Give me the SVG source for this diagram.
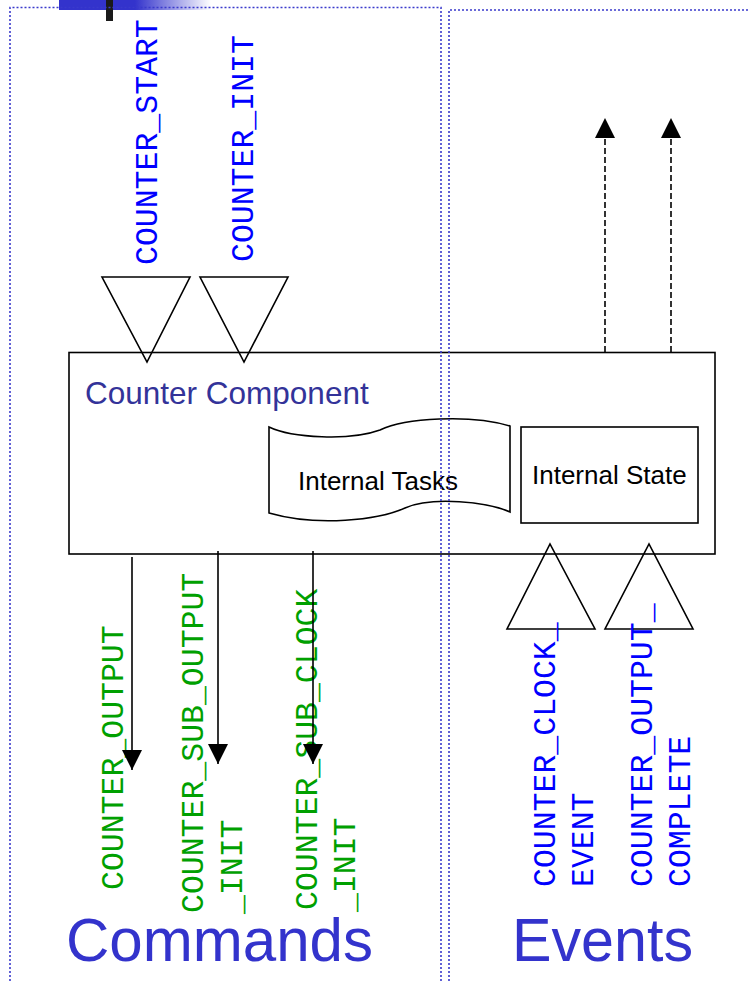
<svg xmlns="http://www.w3.org/2000/svg" width="749" height="981" viewBox="0 0 749 981">
  <style>
    .panel { fill: none; stroke: #3a3acc; stroke-width: 1.6; stroke-dasharray: 2 2; }
    .shape { fill: none; stroke: #000; stroke-width: 1.6; }
    .wire { fill: none; stroke: #000; stroke-width: 1.6; }
    .dash { fill: none; stroke: #000; stroke-width: 1.6; stroke-dasharray: 6 3; }
    .sans { font-family: "Liberation Sans", Arial, sans-serif; }
    .mono { font-family: "Liberation Mono", "Courier New", monospace; font-size: 31.5px; }
    .cmd { fill: #00a000; }
    .evt { fill: #0000ff; }
    .big { font-size: 62px; fill: #3333cc; }
  </style>
  <defs>
    <linearGradient id="barFade" x1="0" y1="0" x2="1" y2="0">
      <stop offset="0" stop-color="#3333cc"/>
      <stop offset="0.5" stop-color="#3333cc"/>
      <stop offset="1" stop-color="#3333cc" stop-opacity="0"/>
    </linearGradient>
    <marker id="head" viewBox="0 0 20 20" refX="20" refY="10" markerWidth="20" markerHeight="20" markerUnits="userSpaceOnUse" orient="auto">
      <path d="M0,0 L20,10 L0,20 Z" fill="#000"/>
    </marker>
  </defs>

  <!-- title bar accent -->
  <rect x="59" y="0" width="152" height="10" fill="url(#barFade)"/>
  <rect x="106" y="0" width="7" height="21" fill="#1a1a1a"/>

  <!-- top signals -->
  <g id="counter-start">
    <polygon class="shape" points="102,277 190,277 147,362"/>
    <text class="mono evt" transform="translate(157,265) rotate(-90)">COUNTER_START</text>
  </g>
  <g id="counter-init">
    <polygon class="shape" points="200,277 288,277 244,362"/>
    <text class="mono evt" transform="translate(253,262) rotate(-90)">COUNTER_INIT</text>
  </g>

  <!-- component body -->
  <g id="counter-component">
    <rect class="shape" x="69" y="352.5" width="646" height="201.5"/>
    <text class="sans" x="85" y="404" font-size="31.5" fill="#333399">Counter Component</text>
  </g>

  <g id="internal-tasks">
    <path class="shape" d="M269,427 C292,438 350,441 380,430 C405,418 470,414 510,426 L510,512 C488,502 432,496 405,508 C378,520 318,527 269,513 Z" fill="#fff"/>
    <text class="sans" x="298" y="490" font-size="26">Internal Tasks</text>
  </g>

  <g id="internal-state">
    <rect class="shape" x="521" y="427" width="177" height="96"/>
    <text class="sans" x="532" y="484" font-size="26">Internal State</text>
  </g>

  <!-- bottom events -->
  <g id="counter-clock-event">
    <polygon class="shape" points="507,629 595,629 550,544"/>
    <text class="mono evt" transform="translate(555,887) rotate(-90)">COUNTER_CLOCK_</text>
    <text class="mono evt" transform="translate(593,887) rotate(-90)">EVENT</text>
  </g>
  <g id="counter-output-complete">
    <polygon class="shape" points="605,629 693,629 649,544"/>
    <text class="mono evt" transform="translate(652,887) rotate(-90)">COUNTER_OUTPUT_</text>
    <text class="mono evt" transform="translate(690,887) rotate(-90)">COMPLETE</text>
  </g>

  <!-- commands -->
  <g id="counter-output">
    <text class="mono cmd" transform="translate(123,890) rotate(-90)">COUNTER_OUTPUT</text>
  </g>
  <g id="counter-sub-output-init">
    <text class="mono cmd" transform="translate(203,913) rotate(-90)">COUNTER_SUB_OUTPUT</text>
    <text class="mono cmd" transform="translate(242,914) rotate(-90)">_INIT</text>
  </g>
  <g id="counter-sub-clock-init">
    <text class="mono cmd" transform="translate(317,910) rotate(-90)">COUNTER_SUB_CLOCK</text>
    <text class="mono cmd" transform="translate(355,912) rotate(-90)">_INIT</text>
  </g>

  <!-- connectors -->
  <g id="connectors">
    <line class="wire" x1="132" y1="557" x2="132" y2="770" marker-end="url(#head)"/>
    <line class="wire" x1="218" y1="551" x2="218" y2="764" marker-end="url(#head)"/>
    <line class="wire" x1="313" y1="551" x2="313" y2="764" marker-end="url(#head)"/>
    <line class="dash" x1="605" y1="352" x2="605" y2="118" marker-end="url(#head)"/>
    <line class="dash" x1="671" y1="352" x2="671" y2="118" marker-end="url(#head)"/>
  </g>

  <!-- section frames -->
  <g id="commands-panel">
    <path class="panel" d="M10,981 V7.5 H441 V981"/>
    <text class="sans big" x="66" y="961" textLength="307" lengthAdjust="spacingAndGlyphs">Commands</text>
  </g>
  <g id="events-panel">
    <path class="panel" d="M449,981 V10 H749"/>
    <text class="sans big" x="512" y="961" textLength="181" lengthAdjust="spacingAndGlyphs">Events</text>
  </g>
</svg>
